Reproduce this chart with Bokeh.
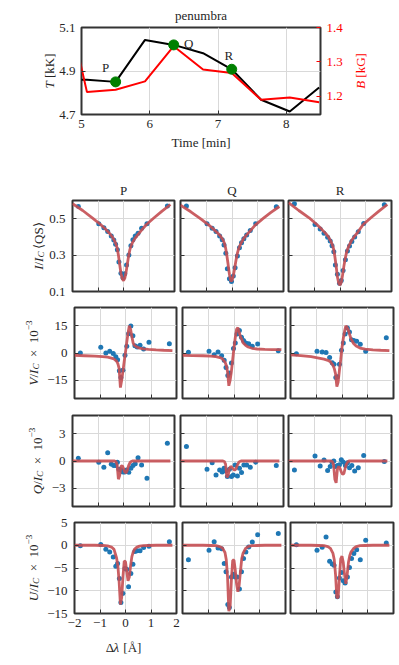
import math
from bokeh.plotting import figure
from bokeh.models import (Range1d, LinearAxis, FixedTicker, Label,
                          ColumnDataSource, CustomJSTickFormatter)
from bokeh.layouts import column, row
from bokeh.core.properties import value
from bokeh.embed import file_html
from bokeh.resources import INLINE

# ------------------------------------------------------------------ data
# top panel: time series
time_min = [4.65, 5.08, 5.50, 5.93, 6.35, 6.78, 7.20, 7.63, 8.05, 8.48]
temperature_kK = [4.86, 4.86, 4.85, 5.043, 5.02, 4.982, 4.908, 4.768, 4.714, 4.824]
field_kG = [1.59, 1.2125, 1.2195, 1.2437, 1.3458, 1.278, 1.268, 1.190, 1.197, 1.183]
sel_time = [5.50, 6.35, 7.20]
sel_temp = [4.85, 5.02, 4.908]
sel_name = ["P", "Q", "R"]

# profiles: wavelength grids
lam_obs = [-1.77, -0.97, -0.77, -0.62, -0.48, -0.38, -0.31, -0.24, -0.18, -0.10, -0.02,
           0.05, 0.12, 0.21, 0.29, 0.37, 0.46, 0.57, 0.71, 0.92, 1.72]
lam_fit = [-2.0, -1.6, -1.2, -0.9, -0.7, -0.55, -0.45, -0.35, -0.3, -0.25, -0.2, -0.15, -0.1,
           -0.05, 0.0, 0.05, 0.1, 0.15, 0.2, 0.25, 0.3, 0.35, 0.45, 0.55, 0.7, 0.9, 1.2, 1.5, 1.84]

# Stokes I
I_obs_P = [0.567, 0.472, 0.450, 0.430, 0.405, 0.383, 0.360, 0.330, 0.262, 0.200, 0.175,
           0.198, 0.245, 0.300, 0.352, 0.385, 0.405, 0.420, 0.448, 0.472, 0.570]
I_obs_Q = [0.570, 0.472, 0.448, 0.430, 0.405, 0.385, 0.355, 0.310, 0.225, 0.170, 0.155,
           0.185, 0.230, 0.295, 0.340, 0.368, 0.390, 0.410, 0.435, 0.472, 0.565]
I_obs_R = [0.582, 0.468, 0.443, 0.420, 0.398, 0.378, 0.352, 0.318, 0.245, 0.195, 0.145,
           0.160, 0.215, 0.275, 0.322, 0.350, 0.375, 0.400, 0.428, 0.473, 0.576]
I_fit_P = [0.583, 0.545, 0.502, 0.468, 0.442, 0.420, 0.402, 0.378, 0.362, 0.340, 0.300, 0.250,
           0.200, 0.170, 0.160, 0.172, 0.205, 0.250, 0.295, 0.330, 0.352, 0.368, 0.392, 0.410,
           0.436, 0.468, 0.505, 0.540, 0.578]
I_fit_Q = [0.575, 0.538, 0.498, 0.465, 0.440, 0.420, 0.405, 0.383, 0.368, 0.340, 0.298, 0.248,
           0.195, 0.158, 0.160, 0.185, 0.225, 0.268, 0.305, 0.332, 0.350, 0.365, 0.390, 0.408,
           0.432, 0.465, 0.500, 0.533, 0.567]
I_fit_R = [0.588, 0.545, 0.505, 0.468, 0.440, 0.418, 0.400, 0.375, 0.358, 0.335, 0.292, 0.240,
           0.180, 0.145, 0.135, 0.150, 0.190, 0.238, 0.280, 0.312, 0.335, 0.352, 0.380, 0.400,
           0.428, 0.468, 0.505, 0.540, 0.578]

# Stokes V (x 1e-3)
V_obs_P = [0.0, 3.1, 0.0, 0.9, -0.3, -2.0, -3.7, -9.7, -13.5, -9.5, -1.3,
           3.7, 10.6, 14.8, 9.5, 4.0, 3.3, 4.2, 2.2, 5.9, 5.1]
V_obs_Q = [0.4, 0.9, -0.9, 0.5, -1.5, -4.0, -7.9, -12.3, -11.0, -5.5, 2.5,
           5.5, 10.5, 12.3, 8.6, 6.8, 5.5, 5.1, 3.7, 4.9, 1.3]
V_obs_R = [-0.4, 0.9, 0.5, 0.3, -2.5, -5.3, -6.2, -13.4, -13.0, -6.2, 1.5,
           5.5, 10.5, 13.7, 11.5, 7.3, 6.8, 6.4, 4.8, 0.9, 8.4]
V_fit_P = [-1.3, -1.5, -1.7, -2.0, -2.3, -2.8, -3.3, -4.5, -5.8, -8.5, -19.0, -15.0, -10.0,
           -4.5, 0.5, 6.0, 11.0, 15.0, 13.0, 9.0, 5.5, 4.2, 3.2, 2.7, 2.3, 2.0, 1.7, 1.5, 1.3]
V_fit_Q = [-1.3, -1.4, -1.5, -1.7, -2.0, -2.5, -3.2, -5.0, -6.8, -10.5, -18.0, -15.0, -10.0,
           -3.5, 3.0, 8.5, 13.0, 14.0, 11.5, 9.0, 7.5, 5.6, 4.2, 3.3, 2.6, 2.2, 2.0, 1.9, 1.8]
V_fit_R = [-1.0, -1.4, -2.0, -2.8, -3.4, -4.0, -4.8, -6.8, -8.5, -11.5, -18.5, -16.0, -9.5,
           -3.7, 3.0, 8.0, 12.0, 15.0, 14.0, 12.5, 10.0, 7.8, 5.2, 3.8, 2.7, 2.1, 1.7, 1.5, 1.3]

# Stokes Q (x 1e-3)
Q_obs_P = [0.3, -0.15, -0.7, 0.9, -0.35, -0.5, -0.5, -0.15, -0.9, -1.0, -1.2,
           -1.2, -1.0, -1.25, -0.8, -0.5, -0.3, 0.35, -0.45, -1.9, 1.95]
Q_obs_Q = [1.6, -0.9, -0.2, -1.55, -1.0, -1.2, -0.8, -1.1, -1.7, -0.9, -1.7,
           -1.55, -0.45, -1.65, -0.8, -1.25, -0.45, -0.45, -0.7, -0.15, -0.5]
Q_obs_R = [-1.0, 0.55, -0.55, 0.1, -1.05, -0.6, -0.15, 0.0, -0.6, -0.5, -0.4,
           0.15, -0.1, -0.5, -0.2, -0.75, -0.5, -1.1, -0.75, 0.6, -0.05]
Q_fit_P = [0, 0, 0, 0, 0, 0, 0, 0, -0.05, -0.4, -2.0, -1.6, -0.6,
           -0.5, -0.8, -1.2, -1.3, -1.0, -0.5, -0.2, -0.05, 0, 0, 0, 0, 0, 0, 0, 0]
Q_fit_Q = [0, 0, 0, 0, 0, 0, 0, 0, -0.05, -0.35, -1.8, -1.6, -0.8,
           -0.6, -0.7, -0.9, -1.0, -0.9, -0.5, -0.2, -0.05, 0, 0, 0, 0, 0, 0, 0, 0]
Q_fit_R = [0, 0, 0, 0, 0, 0, 0, 0, -0.05, -0.4, -2.0, -2.4, -0.9,
           -0.6, -0.8, -1.2, -1.45, -1.4, -0.8, -0.35, -0.1, 0, 0, 0, 0, 0, 0, 0, 0]

# Stokes U (x 1e-3)
U_obs_P = [-0.1, 0.15, -0.9, -1.5, -2.6, -4.6, -4.0, -7.3, -12.6, -10.6, -5.1,
           -5.3, -9.1, -6.2, -4.2, -1.4, -1.2, -1.2, -0.5, -0.2, 0.75]
U_obs_Q = [-3.2, -1.1, 0.75, -0.6, -0.75, -4.0, -5.8, -13.0, -13.7, -7.0, -6.4,
           -7.0, -7.0, -9.6, -5.8, -2.9, -1.5, -0.4, 0.7, 2.3, 2.6]
U_obs_R = [0.1, -1.1, -0.45, 1.8, -3.5, -4.1, -4.4, -10.3, -11.3, -7.2, -6.0,
           -7.8, -8.3, -7.0, -4.9, -2.9, -1.8, -1.0, -3.2, 1.1, 0.5]
U_fit_P = [0, 0, 0, -0.05, -0.15, -0.4, -0.9, -2.8, -4.5, -8.0, -13.0, -11.5, -7.0,
           -3.5, -3.6, -5.8, -7.8, -7.0, -4.5, -2.5, -1.5, -0.9, -0.4, -0.2, -0.1, -0.05, 0, 0, 0]
U_fit_Q = [0, 0, 0, -0.05, -0.1, -0.3, -0.6, -1.6, -3.2, -7.0, -14.5, -13.5, -7.5,
           -3.3, -3.3, -5.5, -8.5, -10.2, -8.8, -5.8, -3.0, -1.8, -0.7, -0.3, -0.1, -0.05, 0, 0, 0]
U_fit_R = [0, 0, 0, -0.05, -0.1, -0.3, -0.7, -1.8, -3.2, -6.5, -11.5, -11.5, -7.0,
           -3.0, -2.4, -3.8, -6.5, -8.5, -6.5, -3.8, -2.3, -1.5, -0.7, -0.3, -0.1, -0.05, 0, 0, 0]

col_titles = ["P", "Q", "R"]
row_ranges = [(0.1, 0.6), (-25, 25), (-5, 5), (-15, 5)]
row_ticks = [[0.1, 0.3, 0.5], [-15, 0, 15], [-3, 0, 3], [-15, -10, -5, 0, 5]]
lam_ticks = [-2, -1, 0, 1, 2]
obs_table = [[I_obs_P, I_obs_Q, I_obs_R], [V_obs_P, V_obs_Q, V_obs_R],
             [Q_obs_P, Q_obs_Q, Q_obs_R], [U_obs_P, U_obs_Q, U_obs_R]]
fit_table = [[I_fit_P, I_fit_Q, I_fit_R], [V_fit_P, V_fit_Q, V_fit_R],
             [Q_fit_P, Q_fit_Q, Q_fit_R], [U_fit_P, U_fit_Q, U_fit_R]]

# ------------------------------------------------------------------ style
FONT = "Liberation Serif"
TXT = "#262626"
FRAME = "#333333"
GRID = "#d9d9d9"
BLUE = "#1f77b4"
FIT = "#c44e52"
FS = 13
MINUS_JS = "return (tick < 0 ? '\u2212' : '') + Math.abs(tick).toString();"

W_REG = {' ': 0.25, '\u00a0': 0.25, '\u2002': 0.5, '\u2009': 0.2, '/': 0.278, 'I': 0.333,
         'C': 0.667, 'Q': 0.722, 'S': 0.556, 'V': 0.722, 'U': 0.722, 'T': 0.611,
         'B': 0.667, '\u00d7': 0.564, '1': 0.5, '0': 0.5, '\u2212': 0.564, '3': 0.5,
         '[': 0.333, ']': 0.333, 'k': 0.5, 'K': 0.722, 'G': 0.722, '\u27e8': 0.39,
         '\u27e9': 0.39, '\u0394': 0.612, '\u03bb': 0.5, '\u00c5': 0.722}
W_IT = {'I': 0.333, 'C': 0.667, 'V': 0.611, 'U': 0.722, 'Q': 0.722, 'T': 0.556,
        'B': 0.611, '\u03bb': 0.5}


def text_width(s, italic, size):
    tot = 0.0
    for ch in s:
        w = W_IT.get(ch) if italic else None
        if w is None:
            w = W_REG.get(ch, 0.5)
        tot += w
    return tot * size


def add_pieces(p, pieces, x0, y0, rotated, size=FS, color=TXT):
    """pieces: (text, italic, scale, shift_up); x0/y0 in screen px of the frame."""
    total = sum(text_width(t, it, size * sc) for t, it, sc, sh in pieces)
    cur = (y0 if rotated else x0) - total / 2.0
    for t, it, sc, sh in pieces:
        fs = size * sc
        if rotated:
            lx, ly, ang = x0 - sh, cur, math.pi / 2
        else:
            lx, ly, ang = cur, y0 + sh, 0.0
        p.add_layout(Label(x=lx, y=ly, x_units="screen", y_units="screen", text=t,
                           angle=ang, text_align="left", text_baseline="alphabetic",
                           text_font=FONT, text_font_size=f"{fs:.1f}px",
                           text_font_style="italic" if it else "normal",
                           text_color=color))
        cur += text_width(t, it, fs)


def style_axis(ax, show_labels=True, color=TXT, tick_color=FRAME, standoff=6):
    ax.axis_line_color = None
    ax.major_tick_in = 4
    ax.major_tick_out = 0
    ax.minor_tick_line_color = None
    ax.major_tick_line_color = tick_color
    ax.major_tick_line_width = 1
    ax.major_label_text_font = FONT
    ax.axis_label_text_font = FONT
    ax.axis_label_text_font_style = "normal"
    ax.axis_label_text_font_size = f"{FS}px"
    ax.axis_label_text_color = TXT
    ax.formatter = CustomJSTickFormatter(code=MINUS_JS)
    ax.major_label_text_font_size = f"{FS}px"
    if show_labels:
        ax.major_label_text_color = color
        ax.major_label_standoff = standoff
    else:
        ax.major_label_text_color = None
        ax.major_label_standoff = 0


def base_fig(fw, fh, xr, yr, l, r, t, b, title=None):
    p = figure(frame_width=fw, frame_height=fh, x_range=xr, y_range=yr, title=title,
               min_border_left=l, min_border_right=r, min_border_top=t, min_border_bottom=b,
               output_backend="svg", toolbar_location=None,
               background_fill_color="white", border_fill_color="white")
    p.outline_line_color = FRAME
    p.outline_line_width = 2
    p.xgrid.grid_line_color = GRID
    p.ygrid.grid_line_color = GRID
    return p


def text_fig(w, fh, top=0, bottom=0):
    """Blank canvas carrying only text labels; its frame spans its full width."""
    f = figure(frame_width=w, frame_height=fh, x_range=Range1d(0, 1), y_range=Range1d(0, 1),
               title=None, x_axis_location=None, y_axis_location=None,
               min_border_left=0, min_border_right=0,
               min_border_top=top, min_border_bottom=bottom,
               output_backend="svg", toolbar_location=None,
               background_fill_color="white", border_fill_color="white")
    f.outline_line_color = None
    f.grid.visible = False
    return f


def add_text(f, txt, x, y, size=FS, color=TXT, align="center"):
    f.add_layout(Label(x=x, y=y, x_units="screen", y_units="screen", text=txt,
                       text_align=align, text_baseline="alphabetic", text_font=FONT,
                       text_font_size=f"{size}px", text_color=color))


TOTAL_W = 393

# ------------------------------------------------------------------ top panel
TW, TH = 239, 87
T_TOP, T_BOT = 26, 40
top = base_fig(TW, TH, Range1d(5, 8.5), Range1d(4.7, 5.1), 24, 27, T_TOP, T_BOT,
               title="penumbra")
top.title.align = "center"
top.title.text_font = FONT
top.title.text_font_size = f"{FS}px"
top.title.text_font_style = "normal"
top.title.text_color = TXT
top.extra_y_ranges = {"B": Range1d(1.1475, 1.4)}
top.xaxis.ticker = FixedTicker(ticks=[5, 6, 7, 8])
top.xgrid.ticker = FixedTicker(ticks=[5, 6, 7, 8])
top.yaxis.ticker = FixedTicker(ticks=[4.7, 4.9, 5.1])
top.ygrid.ticker = FixedTicker(ticks=[4.7, 4.9, 5.1])
for ax in top.xaxis:
    style_axis(ax, standoff=5)
    ax.axis_label = "Time [min]"
    ax.axis_label_standoff = 4
for ax in top.yaxis:
    style_axis(ax, standoff=6)
raxis = LinearAxis(y_range_name="B", ticker=FixedTicker(ticks=[1.2, 1.3, 1.4]))
style_axis(raxis, color="red", tick_color="red", standoff=6)
top.add_layout(raxis, "right")

top.line(time_min, temperature_kK, line_color="black", line_width=2)
top.line(time_min, field_kG, line_color="red", line_width=2, y_range_name="B")
top.scatter(sel_time, sel_temp, size=10, fill_color="green", line_color="green")
lab_dx = [-10, 15, -3]
lab_dy = [-14, -1, -14]
lab_src = ColumnDataSource(dict(x=sel_time, y=sel_temp, text=sel_name, dx=lab_dx, dy=lab_dy))
top.text(x="x", y="y", text="text", x_offset="dx", y_offset="dy", source=lab_src,
         text_font=value(FONT), text_font_size=value(f"{FS}px"), text_color=TXT,
         text_align="center", text_baseline="middle")

left_T = text_fig(56, TH, T_TOP, T_BOT)
add_pieces(left_T, [("T", True, 1, 0), ("\u00a0[kK]", False, 1, 0)], 49.3, TH / 2, True)
right_B = text_fig(TOTAL_W - 56 - 24 - TW - 27, TH, T_TOP, T_BOT)
add_pieces(right_B, [("B", True, 1, 0), ("\u00a0[kG]", False, 1, 0)], 13.3, TH / 2, True,
           color="red")

# ------------------------------------------------------------------ column titles
coltitle_fig = text_fig(TOTAL_W, 44)
for cx, name in zip([123, 231.5, 339.5], col_titles):
    add_text(coltitle_fig, name, cx, 8.5)

# ------------------------------------------------------------------ profile grid
FH = 91
col_geom = [(102, 4), (103, 2, 2), (103, 3, 2)]       # (frame width, right) / (fw, left, right)
row_geom = [(2, 9), (7, 8), (9, 6), (10, 20)]          # top, bottom
lab_w = [46, 44, 47, 44]                               # label strip width per row
label_x = [38.0, 33.3, 36.8, 33.3]
stokes_label = [
    [("I", True, 1, 0), ("/", False, 1, 0), ("I", True, 1, 0), ("C", True, 0.7, -2.5),
     ("\u2009\u27e8QS\u27e9", False, 1, 0)],
    [("V", True, 1, 0), ("/", False, 1, 0), ("I", True, 1, 0), ("C", True, 0.7, -2.5),
     ("\u2002\u00d7\u200210", False, 1, 0), ("\u22123", False, 0.7, 5)],
    [("Q", True, 1, 0), ("/", False, 1, 0), ("I", True, 1, 0), ("C", True, 0.7, -2.5),
     ("\u2002\u00d7\u200210", False, 1, 0), ("\u22123", False, 0.7, 5)],
    [("U", True, 1, 0), ("/", False, 1, 0), ("I", True, 1, 0), ("C", True, 0.7, -2.5),
     ("\u2002\u00d7\u200210", False, 1, 0), ("\u22123", False, 0.7, 5)],
]

rows = []
for ri in range(4):
    mt, mb = row_geom[ri]
    lab = text_fig(lab_w[ri], FH, mt, mb)
    add_pieces(lab, stokes_label[ri], label_x[ri], FH / 2, True)
    figs = [lab]
    for ci in range(3):
        if ci == 0:
            fw, mr = col_geom[0]
            ml = 72 - lab_w[ri]
        else:
            fw, ml, mr = col_geom[ci]
        p = base_fig(fw, FH, Range1d(-2, 2), Range1d(*row_ranges[ri]), ml, mr, mt, mb)
        p.xaxis.ticker = FixedTicker(ticks=lam_ticks)
        p.xgrid.ticker = FixedTicker(ticks=lam_ticks)
        p.yaxis.ticker = FixedTicker(ticks=row_ticks[ri])
        p.ygrid.ticker = FixedTicker(ticks=row_ticks[ri])
        for ax in p.xaxis:
            style_axis(ax, show_labels=(ri == 3 and ci == 0), standoff=5)
        for ax in p.yaxis:
            style_axis(ax, show_labels=(ci == 0), standoff=7)
        p.scatter(lam_obs, obs_table[ri][ci], size=5, fill_color=BLUE, line_color=None)
        p.line(lam_fit, fit_table[ri][ci], line_color=FIT, line_width=2.8, line_alpha=0.9)
        figs.append(p)
    rows.append(row(*figs))

# ------------------------------------------------------------------ wavelength label
dl_fig = text_fig(TOTAL_W, 25)
add_pieces(dl_fig, [("\u0394", False, 1, 0), ("\u03bb", True, 1, 0),
                    ("\u00a0[\u00c5]", False, 1, 0)], 123, 11, False)

layout = column(row(left_T, top, right_B), coltitle_fig, *rows, dl_fig)
open("out.html", "w").write(file_html(layout, INLINE))
